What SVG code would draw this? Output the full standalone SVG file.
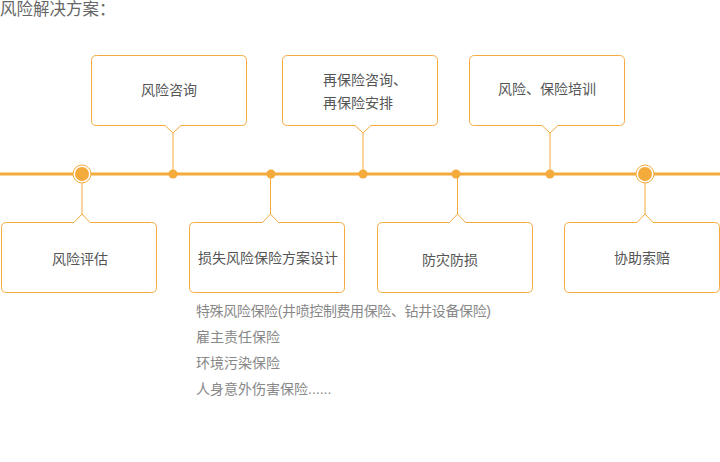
<svg xmlns="http://www.w3.org/2000/svg" width="720" height="462" viewBox="0 0 720 462">
<style>
.box{fill:#fff;stroke:#f5aa3c;stroke-width:1}
.lbl{font-family:"Liberation Sans","Noto Sans CJK SC",sans-serif;font-size:14px;fill:#555}
.lst{font-family:"Liberation Sans","Noto Sans CJK SC",sans-serif;font-size:14px;fill:#888}
.ttl{font-family:"Liberation Sans","Noto Sans CJK SC",sans-serif;font-size:16.5px;fill:#666}
.conn{stroke:#f5aa3c;stroke-width:1;fill:none}
.dot{fill:#f5aa3c}
</style>
<rect width="720" height="462" fill="#fff"/>
<text class="ttl" x="0" y="15">风险解决方案：</text>
<g id="connectors">
<line x1="0" y1="174" x2="720" y2="174" stroke="#f5aa3c" stroke-width="3"/>
<line class="conn" x1="173" y1="133" x2="173" y2="174"/>
<line class="conn" x1="363" y1="133" x2="363" y2="174"/>
<line class="conn" x1="550" y1="133" x2="550" y2="174"/>
<line class="conn" x1="82" y1="174" x2="82" y2="214"/>
<line class="conn" x1="270.5" y1="174" x2="270.5" y2="214"/>
<line class="conn" x1="457.5" y1="174" x2="457.5" y2="214"/>
<line class="conn" x1="645" y1="174" x2="645" y2="214"/>
<g id="dots">
<circle cx="82" cy="174" r="9" fill="#fff" stroke="#f5aa3c" stroke-width="1"/>
<circle class="dot" cx="82" cy="174" r="7"/>
<circle cx="645" cy="174" r="9" fill="#fff" stroke="#f5aa3c" stroke-width="1"/>
<circle class="dot" cx="645" cy="174" r="7"/>
<circle class="dot" cx="173" cy="174" r="4.5"/>
<circle class="dot" cx="271" cy="174" r="4.5"/>
<circle class="dot" cx="363" cy="174" r="4.5"/>
<circle class="dot" cx="456" cy="174" r="4.5"/>
<circle class="dot" cx="550" cy="174" r="4.5"/>
</g>
</g>
<g id="n1">
<path class="box" d="M96.5,55.5 H241.5 Q246.5,55.5 246.5,60.5 V120.5 Q246.5,125.5 241.5,125.5 H181 L173,133 L165,125.5 H96.5 Q91.5,125.5 91.5,120.5 V60.5 Q91.5,55.5 96.5,55.5 Z"/>
<text class="lbl" x="169" y="95" text-anchor="middle">风险咨询</text>
</g>
<g id="n2">
<path class="box" d="M287.5,55.5 H432.5 Q437.5,55.5 437.5,60.5 V120.5 Q437.5,125.5 432.5,125.5 H371 L363,133 L355,125.5 H287.5 Q282.5,125.5 282.5,120.5 V60.5 Q282.5,55.5 287.5,55.5 Z"/>
<text class="lbl" x="323" y="85">再保险咨询、</text>
<text class="lbl" x="323" y="108">再保险安排</text>
</g>
<g id="n3">
<path class="box" d="M474.5,55.5 H619.5 Q624.5,55.5 624.5,60.5 V120.5 Q624.5,125.5 619.5,125.5 H558 L550,133 L542,125.5 H474.5 Q469.5,125.5 469.5,120.5 V60.5 Q469.5,55.5 474.5,55.5 Z"/>
<text class="lbl" x="547" y="94" text-anchor="middle">风险、保险培训</text>
</g>
<g id="n4">
<path class="box" d="M6.5,222.5 H74 L82,214 L90,222.5 H151.5 Q156.5,222.5 156.5,227.5 V287.5 Q156.5,292.5 151.5,292.5 H6.5 Q1.5,292.5 1.5,287.5 V227.5 Q1.5,222.5 6.5,222.5 Z"/>
<text class="lbl" x="80" y="264" text-anchor="middle">风险评估</text>
</g>
<g id="n5">
<path class="box" d="M194.5,222.5 H262.5 L270.5,214 L278.5,222.5 H339.5 Q344.5,222.5 344.5,227.5 V287.5 Q344.5,292.5 339.5,292.5 H194.5 Q189.5,292.5 189.5,287.5 V227.5 Q189.5,222.5 194.5,222.5 Z"/>
<text class="lbl" x="268" y="263" text-anchor="middle">损失风险保险方案设计</text>
</g>
<g id="n6">
<path class="box" d="M382.5,222.5 H449.5 L457.5,214 L465.5,222.5 H527.5 Q532.5,222.5 532.5,227.5 V287.5 Q532.5,292.5 527.5,292.5 H382.5 Q377.5,292.5 377.5,287.5 V227.5 Q377.5,222.5 382.5,222.5 Z"/>
<text class="lbl" x="450" y="265" text-anchor="middle">防灾防损</text>
</g>
<g id="n7">
<path class="box" d="M569.5,222.5 H637 L645,214 L653,222.5 H714.5 Q719.5,222.5 719.5,227.5 V287.5 Q719.5,292.5 714.5,292.5 H569.5 Q564.5,292.5 564.5,287.5 V227.5 Q564.5,222.5 569.5,222.5 Z"/>
<text class="lbl" x="642" y="263" text-anchor="middle">协助索赔</text>
</g>
<g id="list">
<text class="lst" x="196" y="316" textLength="295" lengthAdjust="spacing">特殊风险保险(井喷控制费用保险、钻井设备保险)</text>
<text class="lst" x="196" y="342">雇主责任保险</text>
<text class="lst" x="196" y="368">环境污染保险</text>
<text class="lst" x="196" y="394">人身意外伤害保险......</text>
</g>
</svg>
